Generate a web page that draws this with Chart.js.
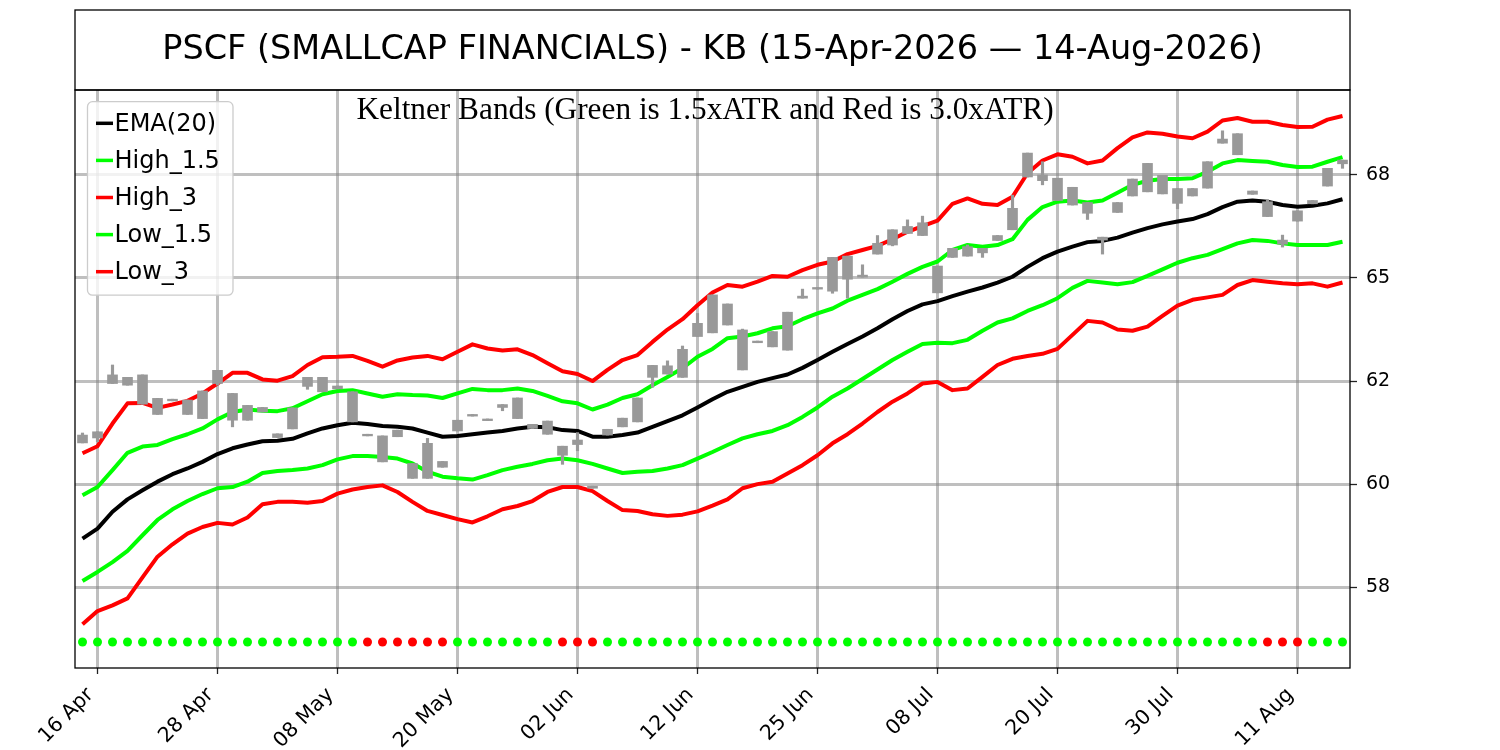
<!DOCTYPE html>
<html>
<head>
<meta charset="utf-8">
<script src="https://cdn.jsdelivr.net/npm/chart.js@4.4.1/dist/chart.umd.min.js"></script>
<style>
  body { margin: 0; background: #fff; }
</style>
</head>
<body>
<canvas id="kb" width="1500" height="750"></canvas>
<script>
// trading days, 15 Apr 2026 .. 14 Aug 2026
const dates = [
  '15 Apr','16 Apr','17 Apr','20 Apr','21 Apr','22 Apr','23 Apr','24 Apr','27 Apr','28 Apr','29 Apr','30 Apr',
  '01 May','04 May','05 May','06 May','07 May','08 May','11 May','12 May','13 May','14 May','15 May','18 May',
  '19 May','20 May','21 May','22 May','26 May','27 May','28 May','29 May',
  '01 Jun','02 Jun','03 Jun','04 Jun','05 Jun','08 Jun','09 Jun','10 Jun','11 Jun','12 Jun','15 Jun','16 Jun',
  '17 Jun','18 Jun','22 Jun','23 Jun','24 Jun','25 Jun','26 Jun','29 Jun','30 Jun',
  '01 Jul','02 Jul','06 Jul','07 Jul','08 Jul','09 Jul','10 Jul','13 Jul','14 Jul','15 Jul','16 Jul','17 Jul',
  '20 Jul','21 Jul','22 Jul','23 Jul','24 Jul','27 Jul','28 Jul','29 Jul','30 Jul','31 Jul',
  '03 Aug','04 Aug','05 Aug','06 Aug','07 Aug','10 Aug','11 Aug','12 Aug','13 Aug','14 Aug'
];
const xTickDates = ['16 Apr','28 Apr','08 May','20 May','02 Jun','12 Jun','25 Jun','08 Jul','20 Jul','30 Jul','11 Aug'];

const yTickValues = [57.5, 60, 62.5, 65, 67.5];
const yTickLabels = ['58', '60', '62', '65', '68'];

// candles (all drawn grey)
const bodyTop = [
  61.19,61.27,62.65,62.59,62.65,62.08,62.06,62.04,62.26,62.76,
  62.20,61.91,61.86,61.22,61.85,62.59,62.59,62.38,62.24,61.21,
  61.17,61.31,60.50,60.99,60.55,61.55,61.69,61.58,61.93,62.09,
  61.45,61.53,60.92,61.07,59.95,61.33,61.60,62.09,62.88,62.87,
  63.27,63.90,64.59,64.37,63.74,63.47,63.70,64.17,64.56,64.77,
  65.50,65.53,65.07,65.84,66.17,66.25,66.34,65.29,65.72,65.76,
  65.72,66.03,66.69,68.03,67.50,67.42,67.20,66.83,65.99,66.83,
  67.40,67.78,67.49,67.17,67.17,67.82,68.37,68.50,67.11,66.85,
  65.92,66.63,66.88,67.66,67.86
];
const bodyBottom = [
  61.00,61.12,62.44,62.40,61.94,61.69,62.02,61.69,61.59,62.44,
  61.55,61.55,61.75,61.13,61.34,62.37,62.24,62.31,61.51,61.17,
  60.54,61.15,60.14,60.14,60.41,61.29,61.65,61.54,61.86,61.59,
  61.35,61.21,60.70,60.96,59.90,61.19,61.39,61.51,62.59,62.67,
  62.59,63.58,63.67,63.86,62.77,63.43,63.33,63.25,64.51,64.73,
  64.68,64.97,65.02,65.58,65.80,66.08,66.03,64.64,65.50,65.53,
  65.61,65.91,66.17,67.45,67.36,66.88,66.77,66.57,65.92,66.59,
  66.99,67.09,67.04,66.81,66.99,67.18,68.27,67.99,67.03,66.49,
  65.82,66.38,66.80,67.23,67.77
];
const wickHigh = [
  61.24,61.27,62.89,62.59,62.65,62.08,62.06,62.04,62.26,62.76,
  62.20,61.91,61.86,61.22,61.85,62.59,62.59,62.38,62.24,61.21,
  61.17,61.31,60.50,61.11,60.55,61.55,61.69,61.58,61.93,62.09,
  61.45,61.53,60.92,61.25,59.95,61.33,61.60,62.09,62.88,62.99,
  63.35,64.14,64.59,64.37,63.76,63.47,63.70,64.17,64.73,64.77,
  65.50,65.53,65.32,66.03,66.17,66.41,66.50,65.29,65.72,65.80,
  65.72,66.03,67.01,68.03,67.82,67.42,67.20,66.83,65.99,66.83,
  67.40,67.78,67.49,67.17,67.17,67.82,68.57,68.50,67.11,66.90,
  66.04,66.63,66.88,67.66,67.86
];
const wickLow = [
  61.00,61.03,62.44,62.40,61.94,61.69,62.02,61.69,61.59,62.40,
  61.39,61.55,61.75,61.13,61.34,62.30,62.24,62.31,61.51,61.17,
  60.54,61.15,60.14,60.14,60.41,61.29,61.65,61.54,61.78,61.59,
  61.35,61.21,60.48,60.81,59.90,61.19,61.39,61.51,62.35,62.67,
  62.59,63.58,63.67,63.86,62.77,63.43,63.33,63.25,64.51,64.73,
  64.63,64.51,65.02,65.58,65.78,66.08,66.03,64.64,65.50,65.53,
  65.50,65.91,66.17,67.45,67.26,66.88,66.77,66.42,65.58,66.59,
  66.99,67.09,67.04,66.68,66.99,67.18,68.27,67.99,67.03,66.49,
  65.75,66.38,66.80,67.23,67.66
];

// Keltner lines
const ema20 = [
  58.68,58.92,59.33,59.63,59.85,60.06,60.24,60.38,60.54,60.73,
  60.87,60.96,61.04,61.05,61.10,61.23,61.35,61.43,61.49,61.46,
  61.41,61.39,61.35,61.25,61.15,61.17,61.21,61.25,61.29,61.35,
  61.39,61.38,61.31,61.29,61.15,61.15,61.19,61.25,61.39,61.53,
  61.67,61.86,62.06,62.24,62.36,62.48,62.57,62.66,62.82,63.01,
  63.21,63.40,63.58,63.78,64.00,64.20,64.36,64.44,64.56,64.67,
  64.77,64.89,65.03,65.27,65.48,65.64,65.76,65.87,65.90,65.98,
  66.10,66.21,66.30,66.37,66.43,66.55,66.72,66.85,66.88,66.85,
  66.77,66.73,66.75,66.81,66.91
];
const high15 = [
  59.73,59.93,60.34,60.76,60.91,60.95,61.09,61.21,61.35,61.57,
  61.75,61.81,61.78,61.77,61.84,62.01,62.18,62.26,62.28,62.20,
  62.12,62.18,62.16,62.15,62.09,62.20,62.31,62.28,62.28,62.32,
  62.26,62.14,62.01,61.96,61.81,61.93,62.09,62.18,62.40,62.60,
  62.81,63.09,63.28,63.54,63.58,63.66,63.78,63.83,64.00,64.14,
  64.26,64.45,64.59,64.73,64.91,65.10,65.27,65.40,65.68,65.80,
  65.76,65.80,65.94,66.41,66.72,66.85,66.88,66.83,66.88,67.07,
  67.26,67.36,67.40,67.40,67.42,67.58,67.78,67.86,67.84,67.82,
  67.74,67.69,67.70,67.82,67.93
];
const high3 = [
  60.75,60.92,61.47,61.96,61.97,61.85,61.93,62.02,62.20,62.44,
  62.70,62.70,62.54,62.51,62.62,62.89,63.08,63.09,63.11,62.99,
  62.85,63.00,63.07,63.11,63.03,63.21,63.39,63.29,63.24,63.27,
  63.13,62.93,62.74,62.67,62.50,62.77,63.01,63.13,63.45,63.75,
  64.00,64.34,64.65,64.83,64.79,64.91,65.05,65.03,65.19,65.32,
  65.40,65.58,65.68,65.78,65.94,66.12,66.26,66.39,66.80,66.93,
  66.80,66.77,66.97,67.54,67.85,68.00,67.94,67.78,67.85,68.15,
  68.41,68.53,68.50,68.43,68.39,68.55,68.82,68.88,68.79,68.79,
  68.71,68.66,68.67,68.84,68.93
];
const low15 = [
  57.65,57.87,58.11,58.38,58.76,59.13,59.39,59.59,59.76,59.90,
  59.93,60.06,60.27,60.32,60.34,60.38,60.46,60.60,60.68,60.68,
  60.66,60.62,60.50,60.30,60.18,60.14,60.11,60.22,60.34,60.42,
  60.49,60.58,60.62,60.58,60.49,60.38,60.27,60.30,60.32,60.38,
  60.46,60.62,60.78,60.95,61.11,61.21,61.29,61.43,61.63,61.86,
  62.12,62.32,62.55,62.78,63.01,63.21,63.40,63.43,63.42,63.50,
  63.72,63.92,64.02,64.20,64.34,64.51,64.76,64.93,64.89,64.85,
  64.90,65.05,65.21,65.37,65.48,65.56,65.70,65.84,65.92,65.90,
  65.84,65.80,65.80,65.80,65.88
];
const low3 = [
  56.60,56.92,57.06,57.23,57.74,58.24,58.54,58.80,58.96,59.06,
  59.02,59.19,59.51,59.57,59.57,59.55,59.59,59.77,59.87,59.93,
  59.97,59.81,59.57,59.35,59.25,59.15,59.07,59.22,59.39,59.47,
  59.59,59.81,59.93,59.93,59.83,59.59,59.37,59.35,59.27,59.23,
  59.26,59.34,59.48,59.63,59.90,60.00,60.06,60.26,60.46,60.70,
  60.99,61.21,61.47,61.75,62.00,62.20,62.44,62.48,62.28,62.32,
  62.60,62.89,63.04,63.11,63.16,63.28,63.62,63.96,63.92,63.75,
  63.72,63.82,64.08,64.33,64.47,64.53,64.59,64.83,64.95,64.91,
  64.87,64.85,64.87,64.79,64.89
];

// dot row along the bottom: g = green, r = red
const dotLevel = 56.17;
const dotFlags = [
  'g','g','g','g','g','g','g','g','g','g','g','g','g','g','g','g','g','g','g','r',
  'r','r','r','r','r','g','g','g','g','g','g','g','r','r','r','g','g','g','g','g',
  'g','g','g','g','g','g','g','g','g','g','g','g','g','g','g','g','g','g','g','g',
  'g','g','g','g','g','g','g','g','g','g','g','g','g','g','g','g','g','g','g','r',
  'r','r','g','g','g'
];

const titleText = 'PSCF (SMALLCAP FINANCIALS) - KB (15-Apr-2026 \u2014 14-Aug-2026)';
const subtitleText = 'Keltner Bands (Green is 1.5xATR and Red is 3.0xATR)';

const GRID = 'rgba(128,128,128,0.5)';
const LIME = '#00ff00';
const RED = '#ff0000';
const CANDLE = '#999999';

Chart.defaults.font.family = 'DejaVu Sans';
Chart.defaults.color = '#000';

const isTickDay = i => xTickDates.includes(dates[i]);

// frame, title box, subtitle and legend box (matplotlib look)
const framePlugin = {
  id: 'frame',
  afterDraw(chart) {
    const ctx = chart.ctx;
    const a = chart.chartArea;
    ctx.save();

    ctx.fillStyle = '#000';
    ctx.font = '31.3px "Liberation Serif"';
    ctx.textAlign = 'center';
    ctx.textBaseline = 'alphabetic';
    ctx.fillText(subtitleText, (a.left + a.right) / 2 - 7.5, a.top + 29);

    // legend
    const items = chart.data.datasets.filter(d => d.inLegend);
    const bx = a.left + 12.5, by = a.top + 11.7, bw = 145.5, bh = 193.5;
    ctx.beginPath();
    if (ctx.roundRect) ctx.roundRect(bx, by, bw, bh, 5); else ctx.rect(bx, by, bw, bh);
    ctx.fillStyle = 'rgba(255,255,255,0.8)';
    ctx.fill();
    ctx.strokeStyle = '#cccccc';
    ctx.lineWidth = 1.3;
    ctx.stroke();
    ctx.font = '24px "DejaVu Sans"';
    ctx.textAlign = 'left';
    ctx.textBaseline = 'middle';
    items.forEach((d, k) => {
      const yy = a.top + 33.3 + 37.1 * k;
      ctx.strokeStyle = d.borderColor;
      ctx.lineWidth = 3.5;
      ctx.beginPath();
      ctx.moveTo(a.left + 21, yy);
      ctx.lineTo(a.left + 38, yy);
      ctx.stroke();
      ctx.fillStyle = '#000';
      ctx.fillText(d.label, a.left + 39.5, yy + 1);
    });

    // spines + title box
    ctx.strokeStyle = '#000';
    ctx.lineWidth = 1.3;
    ctx.strokeRect(a.left, a.top, a.right - a.left, a.bottom - a.top);
    ctx.strokeRect(a.left, 10, a.right - a.left, a.top - 10);
    ctx.restore();
  }
};

const lineDs = (label, data, color, order) => ({
  type: 'line', label, data, inLegend: true,
  borderColor: color, borderWidth: 4, borderJoinStyle: 'round',
  pointRadius: 0, tension: 0, order
});

new Chart(document.getElementById('kb'), {
  type: 'bar',
  data: {
    labels: dates,
    datasets: [
      { type: 'bar', label: 'body', data: dates.map((d, i) => [bodyBottom[i], bodyTop[i]]),
        backgroundColor: CANDLE, barThickness: 10, grouped: false, borderWidth: 0, order: 0 },
      { type: 'bar', label: 'wick', data: dates.map((d, i) => [wickLow[i], wickHigh[i]]),
        backgroundColor: CANDLE, barThickness: 2.5, grouped: false, borderWidth: 0, order: 1 },
      lineDs('EMA(20)', ema20, '#000000', 6),
      lineDs('High_1.5', high15, LIME, 5),
      lineDs('High_3', high3, RED, 4),
      lineDs('Low_1.5', low15, LIME, 3),
      lineDs('Low_3', low3, RED, 2),
      { type: 'line', label: 'signal', data: dates.map(() => dotLevel), showLine: false,
        pointRadius: 4.5, pointBorderWidth: 0,
        pointBackgroundColor: dotFlags.map(f => f === 'r' ? RED : LIME), order: 7 }
    ]
  },
  options: {
    responsive: false,
    devicePixelRatio: 1,
    animation: false,
    layout: { padding: { left: 75, right: 90, top: 10, bottom: 0 } },
    plugins: {
      legend: { display: false },
      tooltip: { enabled: false },
      title: {
        display: true, text: titleText, fullSize: false,
        font: { family: 'DejaVu Sans', size: 33.5, weight: 'normal' },
        color: '#000', padding: { top: 19.9, bottom: 19.9 }
      }
    },
    scales: {
      x: {
        offset: true,
        border: { display: false },
        grid: {
          offset: false,
          lineWidth: 3,
          color: c => isTickDay(c.index) ? GRID : 'rgba(0,0,0,0)',
          tickColor: c => isTickDay(c.index) ? '#222' : 'rgba(0,0,0,0)',
          tickLength: 6, tickWidth: 1.3
        },
        ticks: {
          autoSkip: false, maxRotation: 45, minRotation: 45,
          font: { size: 20.5 }, color: '#000', padding: 9, labelOffset: -7,
          callback: (v, i) => isTickDay(i) ? dates[i] : ''
        },
        afterFit: s => { s.height = 82; }
      },
      y: {
        position: 'right',
        min: 55.54, max: 69.56,
        border: { display: false },
        afterBuildTicks: s => { s.ticks = yTickValues.map(v => ({ value: v })); },
        grid: { color: GRID, lineWidth: 3, tickColor: '#222', tickLength: 7, tickWidth: 1.3 },
        ticks: { font: { size: 19 }, color: '#000', padding: 9,
          callback: (v, i) => yTickLabels[i] },
        afterFit: s => { s.width = 60; }
      }
    }
  },
  plugins: [framePlugin]
});
</script>
</body>
</html>
